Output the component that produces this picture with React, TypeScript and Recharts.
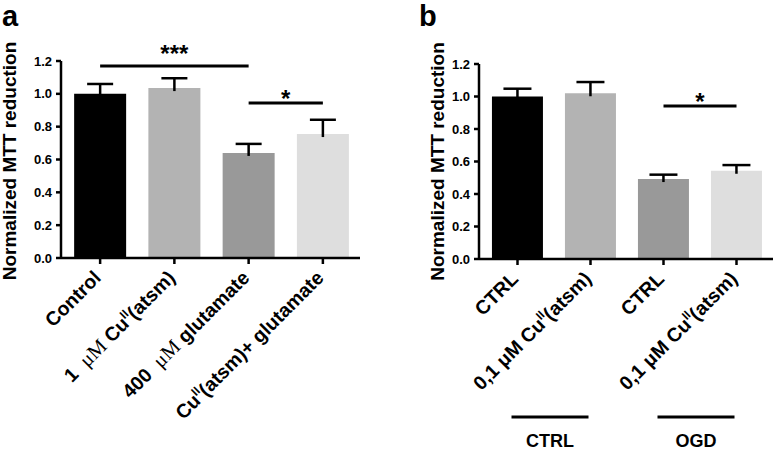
import React from 'react';
import { BarChart, Bar, XAxis, YAxis, Cell, ReferenceLine } from 'recharts';

const FONT = '"Liberation Sans", Arial, Helvetica, sans-serif';
const SERIF = '"Liberation Serif", "Times New Roman", serif';

// ---------- data ----------
const panelAKeys = ['Control', '1 uM Cu(atsm)', '400 uM glutamate', 'Cu(atsm)+ glutamate'];
const panelAMeans = [1.0, 1.035, 0.64, 0.755];
const panelASem = [0.06, 0.06, 0.055, 0.087];

const panelBKeys = ['CTRL-CTRL', 'CTRL-Cu', 'OGD-CTRL', 'OGD-Cu'];
const panelBMeans = [1.0, 1.02, 0.492, 0.543];
const panelBSem = [0.048, 0.069, 0.027, 0.035];

const barColors = ['#000000', '#b3b3b3', '#999999', '#dedede'];
const yTicks = [0, 0.2, 0.4, 0.6, 0.8, 1.0, 1.2];
const yAxisTitle = 'Normalized MTT reduction';

type Part = { t: string; serif?: boolean; sup?: boolean };
const panelATickLabels: Part[][] = [
  [{ t: 'Control' }],
  [{ t: '1  ' }, { t: 'μM', serif: true }, { t: ' Cu' }, { t: 'II', sup: true }, { t: '(atsm)' }],
  [{ t: '400  ' }, { t: 'μM', serif: true }, { t: ' glutamate' }],
  [{ t: 'Cu' }, { t: 'II', sup: true }, { t: '(atsm)+ glutamate' }],
];
const panelBTickLabels: Part[][] = [
  [{ t: 'CTRL' }],
  [{ t: '0,1 μM Cu' }, { t: 'II', sup: true }, { t: '(atsm)' }],
  [{ t: 'CTRL' }],
  [{ t: '0,1 μM Cu' }, { t: 'II', sup: true }, { t: '(atsm)' }],
];
const groupLabels = ['CTRL', 'OGD'];

const dataA = panelAKeys.map((k, i) => ({ key: k, mean: panelAMeans[i], sem: panelASem[i] }));
const dataB = panelBKeys.map((k, i) => ({ key: k, mean: panelBMeans[i], sem: panelBSem[i] }));

// ---------- renderers ----------
const makeTick = (labels: Part[][]) => (props: any) => {
  const { x, y, payload, index } = props;
  const idx = index ?? payload?.index ?? 0;
  const parts = labels[idx] || [];
  let cur = 0;
  const spans = parts.map((p, i) => {
    const target = p.sup ? -8 : 0;
    const dy = target - cur;
    cur = target;
    return (
      <tspan
        key={i}
        dy={dy}
        fontSize={p.sup ? 12 : p.serif ? 20.5 : 19.5}
        fontFamily={p.serif ? SERIF : FONT}
        fontWeight={p.serif ? 'normal' : 'bold'}
      >
        {p.t}
      </tspan>
    );
  });
  return (
    <g transform={`translate(${x + 2},${y + 15})`}>
      <text transform="rotate(-45)" textAnchor="end" fill="#000" style={{ whiteSpace: 'pre' }}>
        {spans}
      </text>
    </g>
  );
};

const makeErrShape = (capHalf: number) => (props: any) => {
  const { x, y, width, height } = props;
  if (x == null || y == null) return <g />;
  const cx = x + width / 2;
  return (
    <g>
      <line x1={cx} x2={cx} y1={y} y2={y + height + 3} stroke="#000" strokeWidth={2.5} />
      <line x1={cx - capHalf} x2={cx + capHalf} y1={y} y2={y} stroke="#000" strokeWidth={2.5} />
    </g>
  );
};

const makeStarLabel = (text: string, offset: number) => (props: any) => {
  const vb = props.viewBox || {};
  const cx = vb.x + (vb.width || 0) / 2;
  return (
    <text x={cx} y={vb.y + offset} textAnchor="middle" fontSize={24} fontWeight="bold" fontFamily={FONT} fill="#000">
      {text}
    </text>
  );
};

const makeYLabel = (baselineOffset: number, dyCenter: number) => (props: any) => {
  const vb = props.viewBox || {};
  const bx = vb.x + baselineOffset;
  const cy = vb.y + vb.height / 2 + dyCenter;
  return (
    <text
      x={bx}
      y={cy}
      transform={`rotate(-90 ${bx} ${cy})`}
      textAnchor="middle"
      fontSize={19}
      fontWeight="bold"
      fontFamily={FONT}
      fill="#000"
    >
      {yAxisTitle}
    </text>
  );
};

const makeGroupLine = (text: string) => (props: any) => {
  const { x1, y1, x2 } = props;
  if (x1 == null) return <g />;
  const a = x1 - 6;
  const b = x2 - 2;
  return (
    <g>
      <line x1={a} x2={b} y1={y1} y2={y1} stroke="#000" strokeWidth={3} />
      <text x={(a + b) / 2} y={y1 + 30} textAnchor="middle" fontSize={18} fontWeight="bold" fontFamily={FONT} fill="#000">
        {text}
      </text>
    </g>
  );
};

const axisStroke = { stroke: '#000', strokeWidth: 2.5 };
const tickFont = { fontSize: 13, fontWeight: 'bold', fontFamily: FONT, fill: '#000' } as any;
const letterStyle: React.CSSProperties = {
  position: 'absolute',
  top: 0,
  fontFamily: FONT,
  fontWeight: 'bold',
  fontSize: 29,
  lineHeight: '33px',
  height: 33,
};

export default function App() {
  return (
    <div style={{ position: 'absolute', left: 0, top: 0, width: 777, height: 451, background: '#fff', overflow: 'hidden' }}>
      <div style={{ ...letterStyle, left: 2 }}>a</div>
      <div style={{ ...letterStyle, left: 419 }}>b</div>

      <div style={{ position: 'absolute', left: 0, top: 0 }}>
        <BarChart
          width={388}
          height={451}
          data={dataA}
          margin={{ top: 61, right: 28, bottom: 163, left: 0 }}
          barCategoryGap="15%"
        >
          <XAxis
            dataKey="key"
            height={30}
            padding={{ left: 2, right: 0 }}
            axisLine={axisStroke}
            tickLine={axisStroke}
            tickSize={6}
            tickMargin={0}
            interval={0}
            tick={makeTick(panelATickLabels)}
          />
          <YAxis
            width={61}
            domain={[0, 1.2]}
            ticks={yTicks}
            tickFormatter={(v: number) => v.toFixed(1)}
            axisLine={axisStroke}
            tickLine={axisStroke}
            tickSize={5}
            tickMargin={4}
            tick={tickFont}
            label={{ content: makeYLabel(16, 1.5) } as any}
          />
          <Bar dataKey="mean" stackId="s" isAnimationActive={false}>
            {dataA.map((_, i) => (
              <Cell key={i} fill={barColors[i]} />
            ))}
          </Bar>
          <Bar dataKey="sem" stackId="s" fill="none" isAnimationActive={false} shape={makeErrShape(13)} />
          <ReferenceLine
            segment={[{ x: panelAKeys[0], y: 1.17 }, { x: panelAKeys[2], y: 1.17 }]}
            stroke="#000"
            strokeWidth={3}
            label={makeStarLabel('***', -4) as any}
          />
          <ReferenceLine
            segment={[{ x: panelAKeys[2], y: 0.944 }, { x: panelAKeys[3], y: 0.944 }]}
            stroke="#000"
            strokeWidth={3}
            label={makeStarLabel('*', 4) as any}
          />
        </BarChart>
      </div>

      <div style={{ position: 'absolute', left: 388, top: 0 }}>
        <BarChart
          width={389}
          height={451}
          data={dataB}
          margin={{ top: 64, right: 4, bottom: 162, left: 0 }}
          barCategoryGap="15%"
        >
          <XAxis
            dataKey="key"
            height={30}
            padding={{ left: 2, right: 0 }}
            axisLine={axisStroke}
            tickLine={axisStroke}
            tickSize={6}
            tickMargin={0}
            interval={0}
            tick={makeTick(panelBTickLabels)}
          />
          <YAxis
            width={91}
            domain={[0, 1.2]}
            ticks={yTicks}
            tickFormatter={(v: number) => v.toFixed(1)}
            axisLine={axisStroke}
            tickLine={axisStroke}
            tickSize={5}
            tickMargin={4}
            tick={tickFont}
            label={{ content: makeYLabel(56, 0) } as any}
          />
          <Bar dataKey="mean" stackId="s" isAnimationActive={false}>
            {dataB.map((_, i) => (
              <Cell key={i} fill={barColors[i]} />
            ))}
          </Bar>
          <Bar dataKey="sem" stackId="s" fill="none" isAnimationActive={false} shape={makeErrShape(14)} />
          <ReferenceLine
            segment={[{ x: panelBKeys[2], y: 0.942 }, { x: panelBKeys[3], y: 0.942 }]}
            stroke="#000"
            strokeWidth={3}
            label={makeStarLabel('*', 4) as any}
          />
          <ReferenceLine
            segment={[{ x: panelBKeys[0], y: -0.972 }, { x: panelBKeys[1], y: -0.972 }]}
            ifOverflow="visible"
            shape={makeGroupLine(groupLabels[0])}
          />
          <ReferenceLine
            segment={[{ x: panelBKeys[2], y: -0.972 }, { x: panelBKeys[3], y: -0.972 }]}
            ifOverflow="visible"
            shape={makeGroupLine(groupLabels[1])}
          />
        </BarChart>
      </div>
    </div>
  );
}
